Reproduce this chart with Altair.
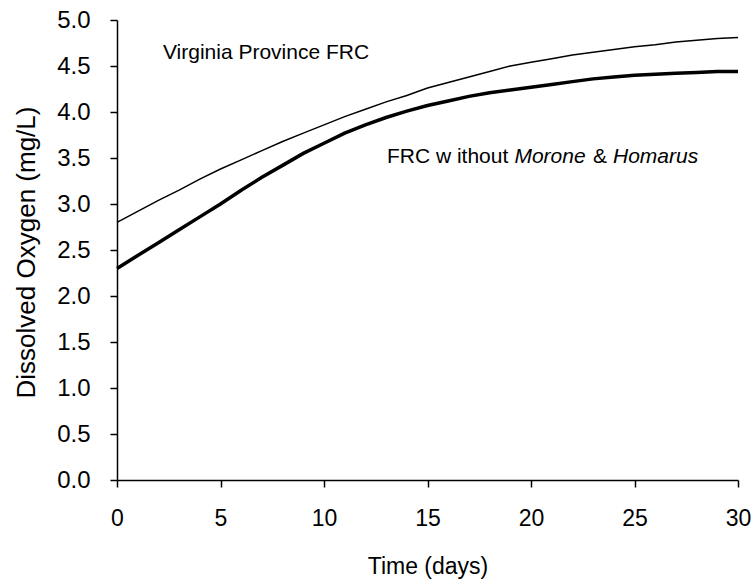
import altair as alt
import pandas as pd

# ---- data ----
days = list(range(31))
virginia = [2.80, 2.92, 3.04, 3.15, 3.27, 3.38, 3.48, 3.58, 3.68, 3.77,
            3.86, 3.95, 4.03, 4.11, 4.18, 4.26, 4.32, 4.38, 4.44, 4.50,
            4.54, 4.58, 4.62, 4.65, 4.68, 4.71, 4.73, 4.76, 4.78, 4.80, 4.81]
without = [2.30, 2.44, 2.58, 2.72, 2.86, 3.00, 3.15, 3.29, 3.42, 3.55,
           3.66, 3.77, 3.86, 3.94, 4.01, 4.07, 4.12, 4.17, 4.21, 4.24,
           4.27, 4.30, 4.33, 4.36, 4.38, 4.40, 4.41, 4.42, 4.43, 4.44, 4.44]

x_ticks = [0, 5, 10, 15, 20, 25, 30]
y_ticks = [0.0, 0.5, 1.0, 1.5, 2.0, 2.5, 3.0, 3.5, 4.0, 4.5, 5.0]

ann_text = ["Virginia Province FRC", "FRC w ithout", "Morone", "&", "Homarus"]
ann_x = [2.22, 13.04, 19.2, 23.0, 23.96]
ann_y = [4.64, 3.51, 3.51, 3.51, 3.51]
ann_italic = [False, False, True, False, True]

FONT = "Liberation Sans"

df = pd.DataFrame({"t": days, "virginia": virginia, "without": without})
ann = pd.DataFrame({"text": ann_text, "x": ann_x, "y": ann_y, "italic": ann_italic})

xscale = alt.Scale(domain=[0, 30], nice=False, zero=False)
yscale = alt.Scale(domain=[0, 5], nice=False, zero=True)

xaxis = alt.Axis(values=x_ticks, title="Time (days)", grid=False,
                 domainColor="black", domainWidth=1.5, tickColor="black",
                 tickWidth=1.5, tickSize=7, labelFont=FONT, labelFontSize=23,
                 labelColor="black", labelPadding=20, titleFont=FONT,
                 titleFontSize=23, titleFontWeight="normal", titleColor="black",
                 titleY=86, titleBaseline="middle", labelFlush=False)
yaxis = alt.Axis(values=y_ticks, format=".1f", title="Dissolved Oxygen (mg/L)",
                 grid=False, domainColor="black", domainWidth=1.5,
                 tickColor="black", tickWidth=1.5, tickSize=7, labelFont=FONT,
                 labelFontSize=24, labelColor="black", labelPadding=20,
                 titleFont=FONT, titleFontSize=26, titleFontWeight="normal",
                 titleColor="black", titleX=-91, titleY=232,
                 titleBaseline="middle", titleAlign="center", labelFlush=False)

thin = alt.Chart(df).mark_line(color="black", strokeWidth=1.5).encode(
    x=alt.X("t:Q", scale=xscale, axis=xaxis),
    y=alt.Y("virginia:Q", scale=yscale, axis=yaxis),
)
bold = alt.Chart(df).mark_line(color="black", strokeWidth=3.5).encode(
    x=alt.X("t:Q", scale=xscale),
    y=alt.Y("without:Q", scale=yscale),
)
txt_normal = alt.Chart(ann).transform_filter("!datum.italic").mark_text(
    font=FONT, fontSize=21, color="black", align="left", baseline="middle"
).encode(x=alt.X("x:Q", scale=xscale), y=alt.Y("y:Q", scale=yscale), text="text:N")
txt_italic = alt.Chart(ann).transform_filter("datum.italic").mark_text(
    font=FONT, fontSize=21, color="black", align="left", baseline="middle",
    fontStyle="italic"
).encode(x=alt.X("x:Q", scale=xscale), y=alt.Y("y:Q", scale=yscale), text="text:N")

chart = alt.layer(thin, bold, txt_normal, txt_italic).properties(
    width=621, height=460,
    autosize=alt.AutoSizeParams(type="none"),
    padding={"left": 117, "top": 20, "right": 13, "bottom": 102},
    background="white",
).configure_view(stroke=None)

chart.save("out.html", embed_options={"renderer": "svg", "actions": False})
